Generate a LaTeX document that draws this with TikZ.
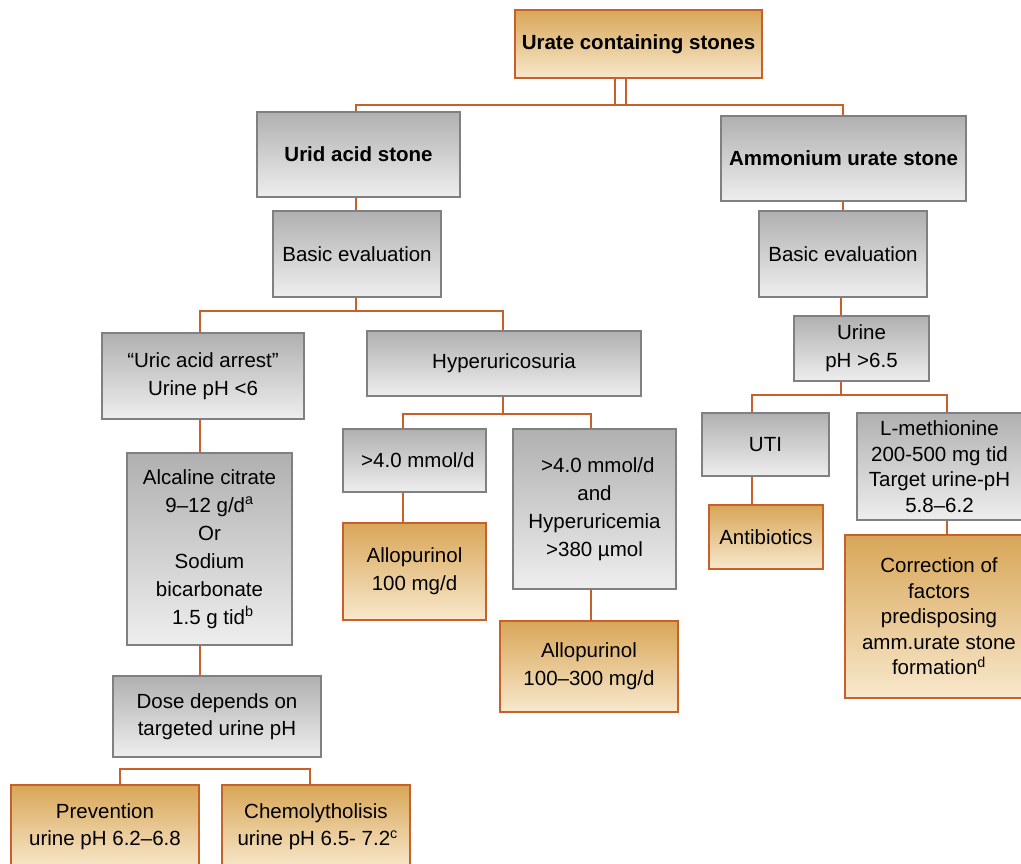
\documentclass[tikz,border=0pt]{standalone}
\usepackage{fontspec}
\setmainfont{Liberation Sans}
\begin{document}
\definecolor{lineor}{RGB}{200,96,42}
\definecolor{gtop}{RGB}{176,176,176}
\definecolor{gbot}{RGB}{238,238,238}
\definecolor{gedge}{RGB}{128,128,128}
\definecolor{otop}{RGB}{216,166,88}
\definecolor{obot}{RGB}{248,232,204}
\begin{tikzpicture}[x=1pt,y=-1pt,
  box/.style={rectangle, inner sep=0pt, align=center, line width=1.5pt,
    font=\fontsize{20.5}{28}\selectfont},
  gbox/.style={box, draw=gedge, top color=gtop, bottom color=gbot},
  obox/.style={box, draw=lineor, top color=otop, bottom color=obot},
  tight/.style={font=\fontsize{20.5}{25.5}\selectfont},
  bold/.style={font=\fontsize{20.5}{28}\selectfont\bfseries},
  conn/.style={draw=lineor, line width=1.8pt}]
\clip (0,0) rectangle (1021,863);
\fill[white] (0,0) rectangle (1021,863);

% nodes
\node[obox,bold,minimum width=247pt,minimum height=68pt] (top) at (638.5,44) {Urate containing stones};
\node[gbox,bold,minimum width=203pt,minimum height=85pt] (urid) at (358.5,154.5) {Urid acid stone};
\node[gbox,bold,minimum width=245pt,minimum height=85pt] (amm) at (843.5,158.5) {Ammonium urate stone};
\node[gbox,minimum width=168pt,minimum height=86pt] (bel) at (357,254) {Basic evaluation};
\node[gbox,minimum width=168pt,minimum height=86pt] (ber) at (843,254) {Basic evaluation};
\node[gbox,minimum width=202pt,minimum height=86pt] (arrest) at (203,376) {“Uric acid arrest”\\Urine pH <6};
\node[gbox,minimum width=274pt,minimum height=65pt] (hyper) at (504,363.5) {Hyperuricosuria};
\node[gbox,minimum width=135pt,minimum height=65pt] (urine) at (861.5,348.5) {Urine\\pH >6.5};
\node[gbox,minimum width=127pt,minimum height=63pt] (uti) at (765.5,444.5) {UTI};
\node[gbox,tight,minimum width=165pt,minimum height=107pt] (lmeth) at (939.5,466.5) {L-methionine\\200-500 mg tid\\Target urine-pH\\5.8–6.2};
\node[gbox,minimum width=143pt,minimum height=63pt] (m4) at (414.5,460.5) {\,\,>4.0 mmol/d};
\node[gbox,minimum width=163pt,minimum height=160pt] (m4h) at (594.5,509) {\,\,>4.0 mmol/d\\and\\Hyperuricemia\\>380 µmol};
\node[obox,minimum width=143pt,minimum height=97pt] (allo1) at (414.5,571.5) {Allopurinol\\100 mg/d};
\node[obox,minimum width=178pt,minimum height=91pt] (allo2) at (589,666.5) {Allopurinol\\100–300 mg/d};
\node[obox,minimum width=114pt,minimum height=64pt] (anti) at (766,537) {Antibiotics};
\node[obox,tight,minimum width=188pt,minimum height=163pt] (corr) at (939,616.5) {Correction of\\factors\\predisposing\\amm.urate stone\\formation\textsuperscript{d}};
\node[gbox,minimum width=165pt,minimum height=192pt] (alc) at (209.5,549) {Alcaline citrate\\9–12 g/d\textsuperscript{a}\\Or\\Sodium\\bicarbonate\\\,\,1.5 g tid\textsuperscript{b}};
\node[gbox,font=\fontsize{20.5}{27}\selectfont,minimum width=208pt,minimum height=81pt] (dose) at (217,716.5) {Dose depends on\\targeted urine pH};
\node[obox,font=\fontsize{20.5}{27}\selectfont,minimum width=188pt,minimum height=84pt] (prev) at (105,827) {Prevention\\urine pH 6.2–6.8};
\node[obox,font=\fontsize{20.5}{27}\selectfont,minimum width=188pt,minimum height=84pt] (chem) at (316,827) {Chemolytholisis\\\,urine pH 6.5- 7.2\textsuperscript{c}};

% column coordinates
\coordinate (cA) at (615,0);
\coordinate (cB) at (626,0);
\coordinate (cS) at (356,0);
\coordinate (cW) at (843,0);
\coordinate (cL) at (200,0);
\coordinate (cP) at (120,0);
\coordinate (cC) at (310,0);
\coordinate (cM) at (403,0);
\coordinate (cN) at (591,0);
\coordinate (cU) at (841,0);
\coordinate (cT) at (752,0);
\coordinate (cR) at (947,0);
\coordinate (b1) at (620,105);
\coordinate (b2) at (356,311);
\coordinate (b3) at (200,769);
\coordinate (b4) at (503,414);
\coordinate (b5) at (841,395);

% connectors
\draw[conn] (top.south -| cA) -- (b1 -| cA);
\draw[conn] (top.south -| cB) -- (b1 -| cB);
\draw[conn] (urid.north -| cS) |- (b1) -| (amm.north -| cW);
\draw[conn] (urid.south -| cS) -- (bel.north -| cS);
\draw[conn] (amm.south -| cW) -- (ber.north -| cW);
\draw[conn] (bel.south -| b2) -- (b2);
\draw[conn] (arrest.north -| cL) |- (b2) -| (hyper.north -| b4);
\draw[conn] (arrest.south -| cL) -- (alc.north -| cL);
\draw[conn] (alc.south -| cL) -- (dose.north -| cL);
\draw[conn] (prev.north -| cP) |- (b3) -| (chem.north -| cC);
\draw[conn] (hyper.south -| b4) -- (b4);
\draw[conn] (m4.north -| cM) |- (b4) -| (m4h.north -| cN);
\draw[conn] (m4.south -| cM) -- (allo1.north -| cM);
\draw[conn] (m4h.south -| cN) -- (allo2.north -| cN);
\draw[conn] (ber.south -| cU) -- (urine.north -| cU);
\draw[conn] (urine.south -| cU) -- (b5);
\draw[conn] (uti.north -| cT) |- (b5) -| (lmeth.north -| cR);
\draw[conn] (uti.south -| cT) -- (anti.north -| cT);
\draw[conn] (lmeth.south -| cR) -- (corr.north -| cR);
\end{tikzpicture}
\end{document}
